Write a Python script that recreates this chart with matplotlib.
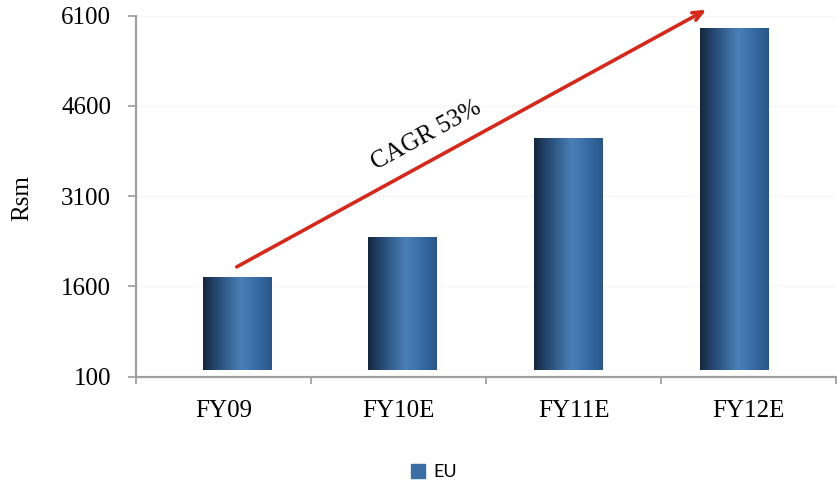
import numpy as np
import matplotlib
matplotlib.use("Agg")
import matplotlib.pyplot as plt
from matplotlib.colors import LinearSegmentedColormap
from matplotlib.patches import Patch

# data
categories = ["FY09", "FY10E", "FY11E", "FY12E"]
eu_values = [1760, 2420, 4060, 5900]
y_ticks = [100, 1600, 3100, 4600, 6100]
cagr_text = "CAGR 53%"

plt.rcParams['font.family'] = ['Liberation Serif', 'DejaVu Serif']

fig = plt.figure(figsize=(8.38, 4.84), dpi=100)
ax = fig.add_axes([0.1623, 0.2217, 0.8353, 0.746])

# cylinder shading, dark on the left, highlight a bit right of centre
cyl = LinearSegmentedColormap.from_list(
    "cyl", [(0.0, "#15263c"), (0.18, "#24466e"), (0.55, "#4a80b8"),
            (0.8, "#3569a1"), (1.0, "#2a5686")])
grad = np.linspace(0, 1, 256).reshape(1, -1)

x_cat = np.arange(len(categories))
# columns sit a little right of their category slot (3D look)
x_bar = 0.0755 + x_cat * 0.948
bar_w = 0.39
base = 210

bars = ax.bar(x_bar, np.array(eu_values) - base, bottom=base, width=bar_w,
              color="#3a6ea5", edgecolor="none", zorder=2, label="EU")
for b in bars:
    x0, y0 = b.get_x(), b.get_y()
    im = ax.imshow(grad, cmap=cyl, aspect="auto", interpolation="bilinear",
                   extent=[x0, x0 + b.get_width(), y0, y0 + b.get_height()],
                   zorder=3)
    im.set_clip_path(b)

# axes
ax.set_xlim(-0.5, 3.5)
ax.set_ylim(100, 6100)
ax.set_yticks(y_ticks)
ax.set_xticks(x_cat)
ax.set_xticklabels(categories)
ax.set_xticks(np.arange(-0.5, 4, 1), minor=True)
ax.tick_params(axis="x", which="major", length=0, pad=17, labelsize=18)
ax.tick_params(axis="x", which="minor", length=5, width=1.2, color="#999999")
ax.tick_params(axis="y", length=6, width=1.2, color="#999999", pad=12,
               labelsize=18)
for side in ["top", "right"]:
    ax.spines[side].set_visible(False)
for side in ["left", "bottom"]:
    ax.spines[side].set_color("#a0a0a0")
    ax.spines[side].set_linewidth(1.6)
ax.yaxis.grid(True, color="#f6f6f6", lw=1)
ax.set_axisbelow(True)

fig.text(0.026, 0.591, "Rsm", rotation=90, ha="center", va="center",
         fontsize=18)

# growth arrow from FY09 to FY12E
ax.annotate("", xy=(x_bar[3] - 0.16, eu_values[3] + 300),
            xytext=(x_bar[0], eu_values[0] + 165),
            arrowprops=dict(arrowstyle="->,head_length=0.7,head_width=0.3",
                            color="#d42a1e", lw=2.6, shrinkA=0, shrinkB=0),
            annotation_clip=False, zorder=5)
ax.text(1.158, 4103, cagr_text, rotation=28.7, rotation_mode="anchor",
        ha="center", va="center", fontsize=18)

fig.legend(handles=[Patch(color="#3a6ea5")], labels=["EU"], loc="center",
           bbox_to_anchor=(0.518, 0.024), frameon=False,
           prop={"family": "Lato", "size": 13}, handlelength=0.75,
           handleheight=0.75, handletextpad=0.5)

fig.savefig("out.png", dpi=100)
